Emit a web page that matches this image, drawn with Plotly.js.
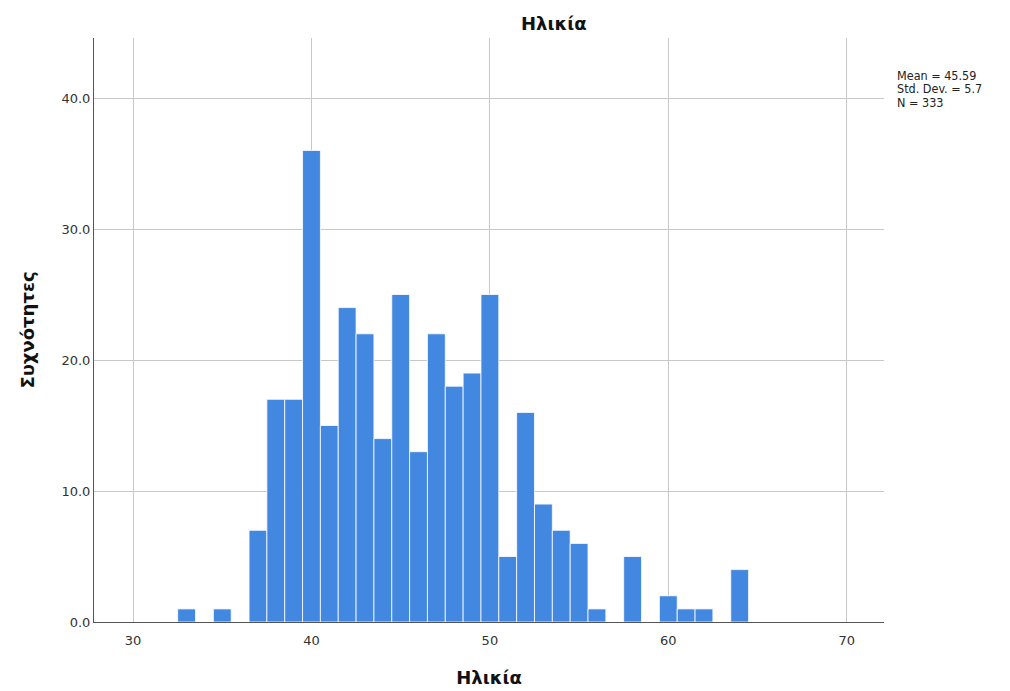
<!DOCTYPE html>
<html>
<head>
<meta charset="utf-8">
<script src="https://cdn.plot.ly/plotly-3.0.1.min.js"></script>
<style>html,body{margin:0;padding:0;background:#fff;}#chart{width:1010px;height:691px;}</style>
</head>
<body>
<div id="chart"></div>
<script>
const ages = [33, 35, 37, 38, 39, 40, 41, 42, 43, 44, 45, 46, 47, 48, 49, 50, 51, 52, 53, 54, 55, 56, 58, 60, 61, 62, 64];
const counts = [1, 1, 7, 17, 17, 36, 15, 24, 22, 14, 25, 13, 22, 18, 19, 25, 5, 16, 9, 7, 6, 1, 5, 2, 1, 1, 4];
const xTicks = [30, 40, 50, 60, 70];
const yTicks = [0, 10, 20, 30, 40];
const yTickText = ["0.0", "10.0", "20.0", "30.0", "40.0"];
const statsLines = ["Mean = 45.59", "Std. Dev. = 5.7", "N = 333"];

const trace = {
  type: 'bar',
  x: ages,
  y: counts,
  width: 1,
  marker: {color: '#4287e0', line: {color: '#ffffff', width: 0.8}},
  hoverinfo: 'x+y'
};

const statsY = [0.9366, 0.9127, 0.8887];
const annotations = statsLines.map((t, i) => ({
  xref: 'paper', yref: 'paper',
  x: 1.015, y: statsY[i],
  xanchor: 'left', yanchor: 'middle',
  align: 'left',
  showarrow: false,
  borderpad: 0,
  text: t,
  font: {family: 'Liberation Sans Narrow, DejaVu Sans Condensed, sans-serif', size: 12.5, color: '#222'}
}));

const layout = {
  width: 1010,
  height: 691,
  margin: {l: 94, r: 126, t: 38, b: 69},
  paper_bgcolor: '#ffffff',
  plot_bgcolor: '#ffffff',
  showlegend: false,
  bargap: 0,
  font: {family: 'DejaVu Sans, Verdana, sans-serif', color: '#222'},
  title: {
    text: '<b>Ηλικία</b>',
    font: {family: 'DejaVu Sans, sans-serif', size: 18, color: '#111'},
    x: 0.582, xanchor: 'center', xref: 'paper',
    y: 0.966, yanchor: 'middle', yref: 'container'
  },
  xaxis: {
    range: [27.81, 72.09],
    tickvals: xTicks,
    ticktext: xTicks.map(String),
    ticks: '',
    showgrid: true,
    gridcolor: '#c8c8c8',
    gridwidth: 1,
    zeroline: false,
    showline: true,
    linecolor: '#555',
    linewidth: 1,
    tickfont: {size: 13, color: '#333'},
    ticklabelstandoff: 6,
    title: {text: '<b>Ηλικία</b>', font: {size: 18, color: '#111'}, standoff: 24}
  },
  yaxis: {
    range: [0, 44.58],
    tickvals: yTicks,
    ticktext: yTickText,
    ticks: '',
    showgrid: true,
    gridcolor: '#c8c8c8',
    gridwidth: 1,
    zeroline: false,
    showline: true,
    linecolor: '#555',
    linewidth: 1,
    tickfont: {size: 13, color: '#333'},
    title: {text: '<b>Συχνότητες</b>', font: {size: 18, color: '#111'}, standoff: 22}
  },
  annotations: annotations
};

Plotly.newPlot('chart', [trace], layout, {displayModeBar: false, staticPlot: true});
</script>
</body>
</html>
